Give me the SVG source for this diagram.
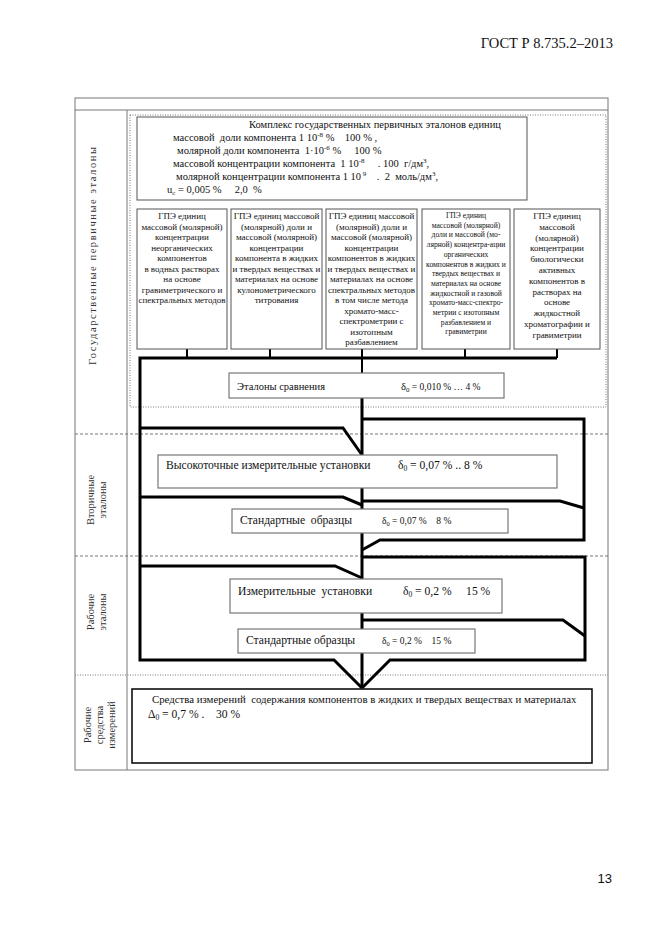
<svg xmlns="http://www.w3.org/2000/svg" width="661" height="935" viewBox="0 0 661 935" xml:space="preserve">
<style>
text{font-family:"Liberation Serif","Times New Roman",serif;fill:#111;white-space:pre}
.t{font-size:10.5px}
.m{font-size:11.6px}
.g{font-size:9px;text-anchor:middle}
.g4{font-size:7.6px;text-anchor:middle}
.lab{font-size:10.5px;text-anchor:middle;fill:#333}
.box{fill:#fff;stroke:#555;stroke-width:1}
.gbox{fill:#fff;stroke:#777;stroke-width:1.2}
.frame{fill:none;stroke:#777;stroke-width:1}
.sep{stroke:#777;stroke-width:1;stroke-dasharray:3 2;fill:none}
.dot{stroke:#777;stroke-width:1;stroke-dasharray:1 1.5;fill:none}
.c{fill:none;stroke:#000;stroke-width:3;stroke-linejoin:miter}
.s{fill:none;stroke:#000;stroke-width:2}
</style>
<rect width="661" height="935" fill="#fff"/>
<text x="613" y="48" style="font-size:14.5px" text-anchor="end">ГОСТ Р 8.735.2–2013</text>
<text x="612" y="883" style="font-family:'Liberation Sans',Arial,sans-serif;font-size:13px" text-anchor="end">13</text>

<g id="frame">
<rect class="frame" x="75" y="98" width="533" height="672"/>
<line class="frame" x1="75" y1="110" x2="608" y2="110"/>
<line class="frame" x1="127" y1="110" x2="127" y2="770"/>
<rect class="dot" x="130" y="115" width="476" height="292"/>
<line class="sep" x1="75" y1="434" x2="608" y2="434"/>
<line class="sep" x1="75" y1="556" x2="608" y2="556"/>
<line class="dot" x1="75" y1="675" x2="608" y2="675"/>
</g>

<g id="labels">
<text class="lab" transform="translate(96,256) rotate(-90)" textLength="218">Государственные первичные эталоны</text>
<text class="lab" transform="translate(94,500) rotate(-90)">Вторичные</text>
<text class="lab" transform="translate(106,500) rotate(-90)">эталоны</text>
<text class="lab" transform="translate(94,612) rotate(-90)">Рабочие</text>
<text class="lab" transform="translate(106,612) rotate(-90)">эталоны</text>
<text class="lab" transform="translate(91,725) rotate(-90)">Рабочие</text>
<text class="lab" transform="translate(103,725) rotate(-90)">средства</text>
<text class="lab" transform="translate(115,725) rotate(-90)">измерений</text>
</g>

<g id="connectors">
<line class="s" x1="187" y1="349" x2="187" y2="358"/>
<line class="s" x1="270" y1="349" x2="270" y2="358"/>
<line class="s" x1="362" y1="349" x2="362" y2="373"/>
<line class="s" x1="465" y1="349" x2="465" y2="358"/>
<line class="s" x1="557" y1="349" x2="557" y2="358"/>
<path class="c" d="M557,358 H140 V660 H334 L362,688"/>
<path class="c" d="M140,428 H343 L362,455"/>
<path class="c" d="M140,497 H343 L362,505"/>
<path class="c" d="M140,566 H335 L362,578"/>
<path class="c" d="M362,398 V455 M362,488 V509 M362,533 V579 M362,613 V629 M362,653 V688"/>
<path class="c" d="M362,419 H584 V540 H380 L362,550"/>
<path class="c" d="M362,501 H560 L584,508"/>
<path class="c" d="M362,557 H585 V660 H390 L362,688"/>
<path class="c" d="M362,620 H563 L585,636"/>
</g>

<g id="complex">
<rect class="box" x="137" y="117" width="390" height="83"/>
<text class="t" x="249" y="128">Комплекс государственных первичных эталонов единиц</text>
<text class="t" x="173" y="141">массовой  доли компонента 1 10<tspan font-size="7" dy="-4">-8</tspan><tspan dy="4"> %    100 % ,</tspan></text>
<text class="t" x="177" y="154">молярной доли компонента  1·10<tspan font-size="7" dy="-4">-6</tspan><tspan dy="4"> %     100 %</tspan></text>
<text class="t" x="173" y="167">массовой концентрации компонента  1 10<tspan font-size="7" dy="-4">-8</tspan><tspan dy="4">     . 100  г/дм</tspan><tspan font-size="7" dy="-4">3</tspan><tspan dy="4">,</tspan></text>
<text class="t" x="176" y="180">молярной концентрации компонента 1 10<tspan font-size="7" dy="-4"> 9</tspan><tspan dy="4">    .  2  моль/дм</tspan><tspan font-size="7" dy="-4">3</tspan><tspan dy="4">,</tspan></text>
<text class="t" x="167" y="193">u<tspan font-size="7" dy="2">c</tspan><tspan dy="-2"> = 0,005 %     2,0  %</tspan></text>
</g>

<g id="gpe1">
<rect class="box" x="137" y="209" width="90" height="140"/>
<text class="g" x="182" y="219">ГПЭ единиц</text>
<text class="g" x="182" y="229.5">массовой (молярной)</text>
<text class="g" x="182" y="240">концентрации</text>
<text class="g" x="182" y="250.5">неорганических</text>
<text class="g" x="182" y="261">компонентов</text>
<text class="g" x="182" y="271.5">в водных растворах</text>
<text class="g" x="182" y="282">на основе</text>
<text class="g" x="182" y="292.5">гравиметрического и</text>
<text class="g" x="182" y="303">спектральных методов</text>
</g>
<g id="gpe2">
<rect class="box" x="231" y="209" width="91" height="140"/>
<text class="g" x="276.5" y="219">ГПЭ единиц массовой</text>
<text class="g" x="276.5" y="229.5">(молярной) доли и</text>
<text class="g" x="276.5" y="240">массовой (молярной)</text>
<text class="g" x="276.5" y="250.5">концентрации</text>
<text class="g" x="276.5" y="261">компонента в жидких</text>
<text class="g" x="276.5" y="271.5">и твердых веществах и</text>
<text class="g" x="276.5" y="282">материалах на основе</text>
<text class="g" x="276.5" y="292.5">кулонометрического</text>
<text class="g" x="276.5" y="303">титрования</text>
</g>
<g id="gpe3">
<rect class="box" x="326" y="209" width="91" height="140"/>
<text class="g" x="371.5" y="219">ГПЭ единиц массовой</text>
<text class="g" x="371.5" y="229.5">(молярной) доли и</text>
<text class="g" x="371.5" y="240">массовой (молярной)</text>
<text class="g" x="371.5" y="250.5">концентрации</text>
<text class="g" x="371.5" y="261">компонентов в жидких</text>
<text class="g" x="371.5" y="271.5">и твердых веществах и</text>
<text class="g" x="371.5" y="282">материалах на основе</text>
<text class="g" x="371.5" y="292.5">спектральных методов</text>
<text class="g" x="371.5" y="303">в том числе метода</text>
<text class="g" x="371.5" y="313.5">хромато-масс-</text>
<text class="g" x="371.5" y="324">спектрометрии с</text>
<text class="g" x="371.5" y="334.5">изотопным</text>
<text class="g" x="371.5" y="345">разбавлением</text>
</g>
<g id="gpe4">
<rect class="box" x="422" y="209" width="88" height="140"/>
<text class="g4" x="466" y="218">ГПЭ единиц</text>
<text class="g4" x="466" y="227.7">массовой (молярной)</text>
<text class="g4" x="466" y="237.4">доли и массовой (мо-</text>
<text class="g4" x="466" y="247.1">лярной) концентра-ации</text>
<text class="g4" x="466" y="256.8">органических</text>
<text class="g4" x="466" y="266.5">компонентов в жидких и</text>
<text class="g4" x="466" y="276.2">твердых веществах и</text>
<text class="g4" x="466" y="285.9">материалах на основе</text>
<text class="g4" x="466" y="295.6">жидкостной и газовой</text>
<text class="g4" x="466" y="305.3">хромато-масс-спектро-</text>
<text class="g4" x="466" y="315">метрии с изотопным</text>
<text class="g4" x="466" y="324.7">разбавлением и</text>
<text class="g4" x="466" y="334.4">гравиметрии</text>
</g>
<g id="gpe5">
<rect class="box" x="514" y="209" width="86" height="140"/>
<text class="g" x="557" y="219">ГПЭ единиц</text>
<text class="g" x="557" y="229.8">массовой</text>
<text class="g" x="557" y="240.6">(молярной)</text>
<text class="g" x="557" y="251.4">концентрации</text>
<text class="g" x="557" y="262.2">биологически</text>
<text class="g" x="557" y="273">активных</text>
<text class="g" x="557" y="283.8">компонентов в</text>
<text class="g" x="557" y="294.6">растворах на</text>
<text class="g" x="557" y="305.4">основе</text>
<text class="g" x="557" y="316.2">жидкостной</text>
<text class="g" x="557" y="327">хроматографии и</text>
<text class="g" x="557" y="337.8">гравиметрии</text>
</g>

<g id="etalony-sravneniya">
<rect class="gbox" x="229" y="373" width="275" height="25"/>
<text class="t" x="237" y="390">Эталоны сравнения</text>
<text class="t" x="401" y="390">δ<tspan font-size="7" dy="2">0</tspan><tspan dy="-2" font-size="9.5"> = 0,010 % … 4 %</tspan></text>
</g>
<g id="vysokotochnye">
<rect class="gbox" x="158" y="455" width="399" height="33"/>
<text class="m" x="166" y="469">Высокоточные измерительные установки</text>
<text class="m" x="398" y="469">δ<tspan font-size="7.5" dy="2">0</tspan><tspan dy="-2"> = 0,07 % .. 8 %</tspan></text>
</g>
<g id="standart1">
<rect class="gbox" x="232" y="509" width="276" height="24"/>
<text class="m" x="240" y="524">Стандартные  образцы</text>
<text x="382" y="524" font-size="9.5">δ<tspan font-size="6.5" dy="2">0</tspan><tspan dy="-2"> = 0,07 %    8 %</tspan></text>
</g>
<g id="izmeritelnye">
<rect class="gbox" x="230" y="579" width="272" height="34"/>
<text class="m" x="238" y="595">Измерительные  установки</text>
<text class="m" x="403" y="595">δ<tspan font-size="7.5" dy="2">0</tspan><tspan dy="-2"> = 0,2 %     15 %</tspan></text>
</g>
<g id="standart2">
<rect class="gbox" x="238" y="629" width="237" height="24"/>
<text class="m" x="246" y="644">Стандартные образцы</text>
<text x="382" y="644" font-size="9.5">δ<tspan font-size="6.5" dy="2">0</tspan><tspan dy="-2"> = 0,2 %    15 %</tspan></text>
</g>
<g id="sredstva">
<rect x="132" y="689" width="460" height="74" fill="#fff" stroke="#000" stroke-width="1.5"/>
<text x="152" y="703" font-size="10.8">Средства измерений  содержания компонентов в жидких и твердых веществах и материалах</text>
<text class="m" x="148" y="718">Δ<tspan font-size="7.5" dy="2">0</tspan><tspan dy="-2"> = 0,7 % .    30 %</tspan></text>
</g>
</svg>
